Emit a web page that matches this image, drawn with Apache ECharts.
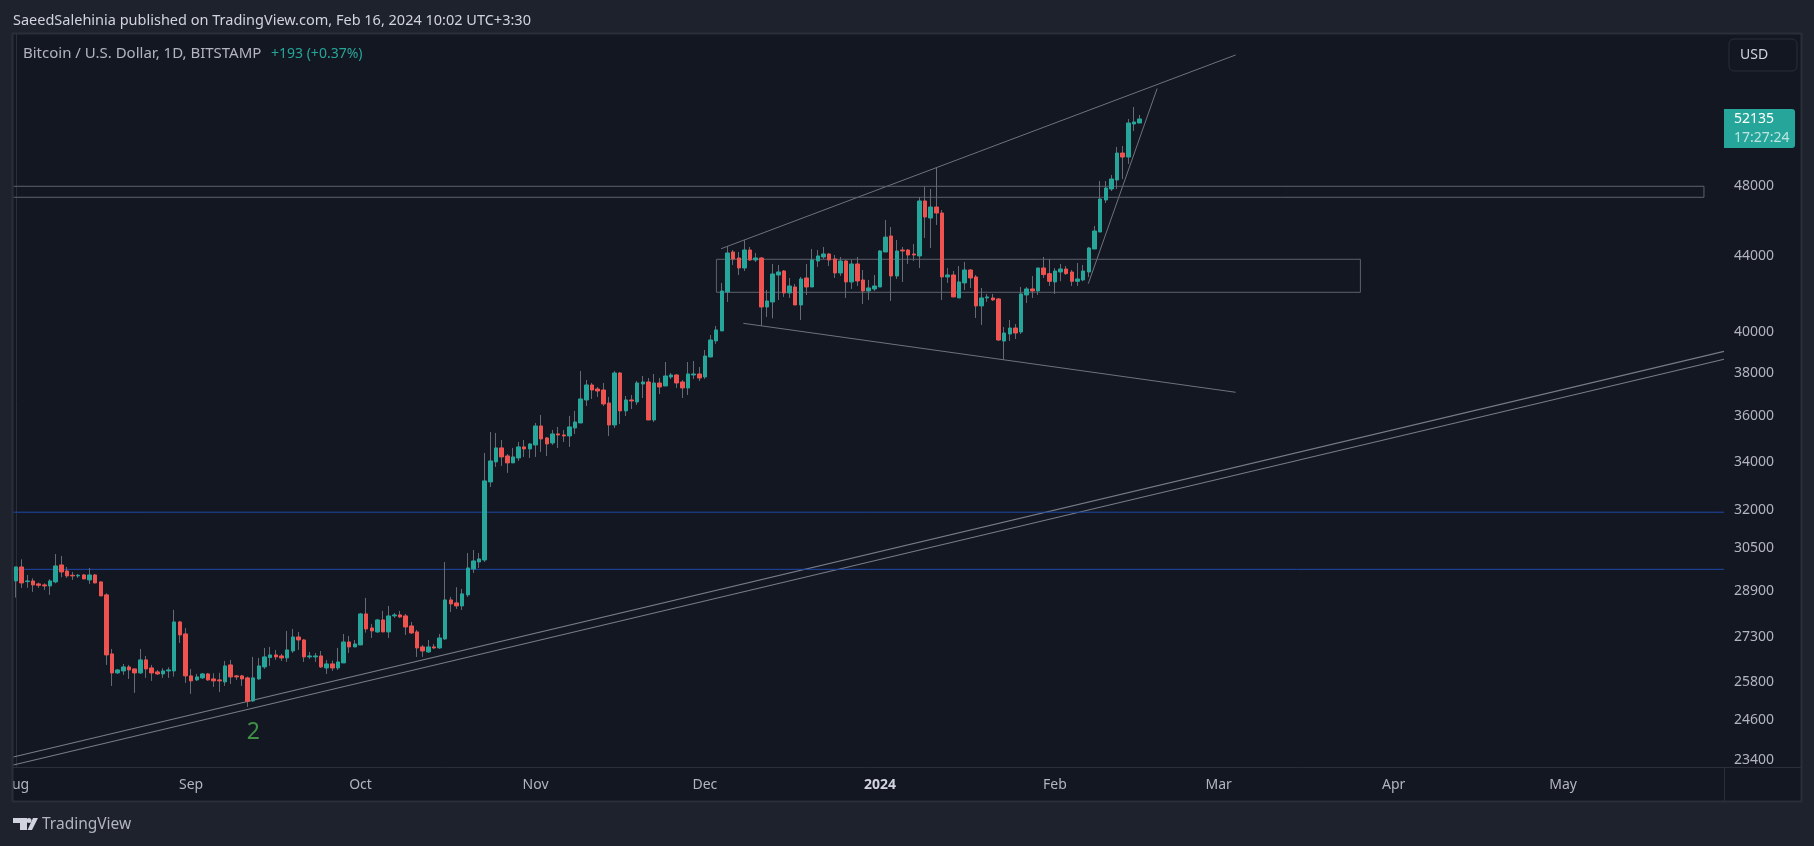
<!DOCTYPE html>
<html><head><meta charset="utf-8">
<style>html,body{margin:0;padding:0;background:#1e222d;overflow:hidden}#c{width:1814px;height:846px}</style>
<script src="https://cdn.jsdelivr.net/npm/echarts@6/dist/echarts.min.js"></script>
</head><body><div id="c"></div>
<script>
const openPrices=[
29243,29760,29219,29243,29134,29098,29061,29207,29834,29611,
29451,29427,29463,29280,29463,29207,28737,26690,26063,26128,
26259,26194,26063,26491,26226,26096,26030,26128,26128,27780,
27366,25966,25836,25901,26030,25868,25836,25771,26325,25966,
25966,25901,25166,25868,26259,26568,26656,26623,26557,26790,
27263,27161,26590,26590,26623,26226,26358,26226,26391,27093,
26925,26992,28060,27572,27435,27850,27435,27990,28025,27990,
27641,27435,26925,26757,26925,26891,27195,28556,28450,28343,
28737,29685,29946,30020,33101,33940,34540,34195,33899,34110,
34583,34496,34669,35503,34974,34755,35150,35105,35061,35414,
35636,36677,37372,37185,37138,36539,35547,37937,36176,36677,
36585,37418,37512,35770,37465,37325,37748,37842,37512,37232,
37842,37890,37748,38704,39489,39986,41985,44140,43810,43265,
44250,43700,43810,41204,41463,42887,43102,41933,42248,41307,
42727,42248,43645,43865,44030,43755,42995,43645,42514,43482,
42620,42037,42143,42248,44140,45033,42834,44250,44250,44030,
43920,47050,46058,46696,46347,42781,42888,41672,42462,43157,
42781,41258,41672,41672,41620,39485,39833,40133,39933,41829,
42144,42038,43265,42960,42515,43049,43211,43049,42550,42621,
43049,44306,45258,47108,47760,48302,49960,49710,51808,51873];
const closePrices=[
29760,29170,29243,29098,29085,29061,29243,29797,29574,29427,
29427,29451,29316,29463,29170,28700,26656,26063,26161,26259,
26161,26063,26491,26194,26063,26030,26128,26161,27780,27332,
25966,25804,25933,26030,25836,25804,25804,26292,25933,25933,
25868,25155,25901,26292,26590,26656,26590,26557,26824,27263,
27161,26590,26623,26623,26259,26358,26226,26424,27093,26925,
27025,28060,27537,27469,27850,27435,27990,28025,27955,27606,
27400,26891,26790,26925,26891,27229,28556,28414,28343,28773,
29722,29984,30059,33143,33982,34540,34153,33899,34153,34583,
34496,34712,35503,34930,34712,35150,35105,35061,35459,35680,
36723,37372,37138,37092,36494,35547,37937,36176,36677,36631,
37465,37512,35770,37465,37278,37795,37842,37465,37232,37890,
37890,37700,38752,39536,40036,42037,44084,43755,43265,44250,
43700,43810,41204,41515,42941,43049,41933,42301,41307,42673,
42248,43700,43920,44030,43700,42995,43645,42514,43482,42567,
42037,42196,42301,44195,44970,42834,44195,44195,43975,43975,
47050,46116,46696,46347,42781,42888,41724,42515,43157,42728,
41258,41672,41724,41568,39535,39883,40133,39883,41881,42144,
42038,43265,42908,42550,43103,43211,42960,42550,42674,43103,
44362,45315,47166,47820,48363,49960,49710,51873,51938,52135];
const lowPrices=[
28640,28990,28990,28845,28990,28917,28737,29158,29378,29353,
29280,29353,29316,29134,29158,28700,26325,25642,26030,25998,
25868,25420,26030,25901,25804,25998,25901,25901,25944,27059,
25739,25388,25804,25868,25804,25610,25451,25642,25707,25836,
25642,24977,25134,25836,26194,26292,26491,26457,26424,26723,
26824,26424,26524,26424,26226,26030,26128,26161,26391,26723,
26925,26992,27412,27229,27400,27435,27229,27920,27920,27332,
27366,26590,26590,26723,26857,26857,27161,28131,28237,28202,
28664,29537,29722,29945,32894,33728,33770,33476,33899,33982,
34153,34110,34153,34367,34195,34669,34540,34799,34583,35150,
35636,36402,36723,36815,36402,35061,35414,35591,35950,36266,
36448,36769,35770,35680,36953,37325,37653,37232,36769,36907,
37653,37559,37653,38704,39341,39986,41463,43428,42887,43102,
43645,43591,40236,40692,40624,41567,41724,41672,41307,40540,
41828,42248,43319,43755,43373,42727,42834,41672,42143,42301,
41360,41567,42037,42248,44140,41515,42673,42514,43482,43645,
43265,44920,44362,45657,41566,42462,41724,41672,42091,42196,
40641,40286,41464,41516,39485,38558,39485,39585,39833,41412,
41672,41829,42728,42303,41881,42550,42888,42303,42303,42550,
42781,44306,45258,46930,47640,47760,48363,49279,51356,51873];
const highPrices=[
29770,30046,29463,29341,29182,29158,29304,30248,30172,29760,
29574,29500,29500,29722,29500,29231,28797,26857,26194,26358,
26325,26194,26857,26623,26325,26161,26215,26248,28202,27815,
27572,26194,26030,26063,26063,26052,26063,26457,26491,25998,
25998,25944,26590,26557,26891,26925,26824,26690,27469,27537,
27435,27195,26757,26723,26790,26491,26468,26891,27366,27298,
27161,28096,28628,27711,27885,28167,28343,28096,28167,28060,
27780,27503,26992,27161,27025,27366,29946,28664,29013,28953,
30285,30400,30285,34323,35238,35194,34886,34280,34540,34799,
34886,34755,35636,35995,35017,35326,35459,35326,35950,36176,
38032,37606,37465,37278,37465,36815,38032,37984,36861,36907,
37559,37795,37700,37890,37700,38462,37937,37890,37606,38462,
38510,38222,39044,39784,40236,42461,44472,44250,44140,44807,
44416,44084,43865,42090,43482,43428,43156,42727,42407,42780,
43482,44305,44250,44416,44084,43975,43865,43700,43700,43865,
43156,42620,42887,44250,45943,45540,44807,44416,44305,44583,
47285,47880,47760,49030,46522,43266,43103,43375,43592,43211,
42888,42196,41881,41881,41672,40183,40539,40336,42249,42249,
42835,43265,43866,43757,43265,43482,43375,43157,43537,43428,
44418,45600,48240,48240,48604,50338,50400,52134,52922,52395];

const priceTicks=[23400,24600,25800,27300,28900,30500,32000,34000,36000,38000,40000,44000,48000];
const monthDates=['2023-08-01','2023-09-01','2023-10-01','2023-11-01','2023-12-01','2024-01-01','2024-02-01','2024-03-01','2024-04-01','2024-05-01'];
const monthLabels=['Aug','Sep','Oct','Nov','Dec','2024','Feb','Mar','Apr','May'];
const lastPrice=52135;
const countdown='17:27:24';

// Drawings: [bar index, price]
const channelUpper=[[-0.5,23459],[302.5,38980]];
const channelLower=[[-0.5,23225],[302.5,38593]];
const wedgeTop=[[124.88,44322],[216,56482]];
const wedgeBottom=[[128.8,40370],[216,37031]];
const steepTrend=[[189.9,42422],[202.1,54160]];
const zoneHigh=[[-0.5,47922],[298.95,47922],[298.95,47267],[-0.5,47267]];
const zoneMid=[[124.04,43738],[238.1,43738],[238.1,41968],[124.04,41968],[124.04,43738]];
const blueLevels=[31870,29670];
const waveMark=[[42,24190]];

const dates=[];
for(let d=new Date(Date.UTC(2023,7,1));d<=new Date(Date.UTC(2024,4,29));d=new Date(d.getTime()+864e5))dates.push(d.toISOString().slice(0,10));

const FONT='"Noto Sans"';
const wicks=openPrices.map((o,i)=>[o,closePrices[i],lowPrices[i],highPrices[i]]);
const bodies=openPrices.map((o,i)=>[o,closePrices[i],Math.min(o,closePrices[i]),Math.max(o,closePrices[i])]);
const GREY='#787b86',WICK='#666a75',ZONE='#5f626d',WEDGE='#6f727d';
function drawing(data,color,w){return {type:'line',xAxisIndex:1,yAxisIndex:0,data,showSymbol:false,symbol:'none',silent:true,animation:false,clip:true,z:5,lineStyle:{color:color||GREY,width:w||1}};}

const chart=echarts.init(document.getElementById('c'),null,{renderer:'canvas',width:1814,height:846});
chart.setOption({
 animation:false,backgroundColor:'#1e222d',
 grid:{left:13,top:34,width:1711,height:733},
 xAxis:[
  {type:'category',data:dates,boundaryGap:true,axisTick:{show:false},splitLine:{show:false},
   axisLine:{lineStyle:{color:'#2a2e39'}},
   axisLabel:{color:'#b2b5be',fontFamily:FONT,fontSize:14,margin:11,hideOverlap:false,showMinLabel:true,
     interval:(i,v)=>monthDates.includes(v),
     formatter:v=>{const k=monthDates.indexOf(v);const t=monthLabels[k]||'';return t==='2024'?'{b|2024}':t;},
     rich:{b:{fontWeight:'bold',color:'#d1d4dc',fontFamily:FONT,fontSize:14}}}},
  {type:'value',min:-0.5,max:302.5,show:false,splitLine:{show:false}}
 ],
 yAxis:[{type:'log',position:'right',min:23168,max:57985,logBase:10,
   splitLine:{show:false},minorSplitLine:{show:false},minorTick:{show:false},axisTick:{show:false},
   axisLine:{show:true,lineStyle:{color:'#2a2e39'}},
   axisLabel:{color:'#b2b5be',fontFamily:FONT,fontSize:14,margin:10,customValues:priceTicks,
     formatter:v=>'{p|'+Math.round(v)+'}',
     rich:{p:{color:'#b2b5be',fontFamily:FONT,fontSize:14,padding:[2,0,0,0]}}}}],
 series:[
  {type:'candlestick',name:'wick',data:wicks,barWidth:1,z:6,silent:true,clip:true,
   itemStyle:{color:WICK,color0:WICK,borderColor:WICK,borderColor0:WICK,borderWidth:1}},
  {type:'candlestick',name:'body',data:bodies,barWidth:4,z:7,silent:true,clip:true,
   itemStyle:{color:'#26a69a',color0:'#ef5350',borderColor:'#26a69a',borderColor0:'#ef5350',borderWidth:1}},
  drawing(channelUpper,GREY,1.2),drawing(channelLower,GREY,1.2),drawing(wedgeTop,WEDGE),drawing(wedgeBottom,WEDGE),drawing(steepTrend,WEDGE),drawing(zoneHigh,ZONE),drawing(zoneMid,ZONE),
  drawing([[-0.5,blueLevels[0]],[302.5,blueLevels[0]]],'#1f47a8'),
  drawing([[-0.5,blueLevels[1]],[302.5,blueLevels[1]]],'#1f47a8'),
  {type:'scatter',xAxisIndex:1,yAxisIndex:0,data:waveMark,symbolSize:1,itemStyle:{color:'transparent'},silent:true,z:8,
   label:{show:true,position:'inside',formatter:'2',color:'#4caf50',fontFamily:FONT,fontSize:23}}
 ]
});

const by=chart.convertToPixel({yAxisIndex:0},lastPrice);
const frame='#2a2e39';
function txt(x,y,text,fill,size,extra){return Object.assign({type:'text',x,y,z:60,silent:true,style:{text,fill,fontFamily:FONT,fontSize:size,textVerticalAlign:'middle',verticalAlign:'middle'}},extra||{});}
function seg(x1,y1,x2,y2,w){return {type:'line',z:55,silent:true,shape:{x1,y1,x2,y2},style:{stroke:frame,lineWidth:w||1}};}
chart.setOption({graphic:{elements:[
 {type:'rect',z:-10,silent:true,shape:{x:13,y:34,width:1788,height:767},style:{fill:'#131722'}},
 {type:'rect',z:50,silent:true,shape:{x:0,y:768,width:13,height:33},style:{fill:'#1e222d'}},
 seg(12.5,33,12.5,802,2),seg(12,33.5,1802,33.5,2),seg(1801.5,33,1801.5,802,2),seg(12,801.5,1802,801.5,2),
 seg(1724.5,767,1724.5,801),seg(1724,767.5,1801,767.5),
 txt(13,21,'SaeedSalehinia published on TradingView.com, Feb 16, 2024 10:02 UTC+3:30','#d1d4dc',14.5),
 txt(23,54,'Bitcoin / U.S. Dollar, 1D, BITSTAMP','#b2b5be',15),
 txt(271,54,'+193 (+0.37%)','#26a69a',14),
 {type:'rect',z:55,silent:true,shape:{x:1729,y:39,width:68,height:32,r:5},style:{fill:'#131722',stroke:frame,lineWidth:1}},
 txt(1740,55,'USD','#d1d4dc',14),
 {type:'rect',z:55,silent:true,shape:{x:1724,y:by-10,width:71,height:39,r:[0,3,3,0]},style:{fill:'#26a69a'}},
 txt(1734,by,String(lastPrice),'#ffffff',14),
 txt(1734,by+19,countdown,'rgba(255,255,255,0.7)',14),
 {type:'polygon',z:60,silent:true,shape:{points:[[13,818],[27,818],[27,830],[20,830],[20,823],[13,823]]},style:{fill:'#d1d4dc'}},
 {type:'circle',z:60,silent:true,shape:{cx:29,cy:820.5,r:2.5},style:{fill:'#d1d4dc'}},
 {type:'polygon',z:60,silent:true,shape:{points:[[33,818],[38,818],[32,830],[27.5,830]]},style:{fill:'#d1d4dc'}},
 txt(42,825,'TradingView','#b2b5be',15.5)
]}});
</script></body></html>
